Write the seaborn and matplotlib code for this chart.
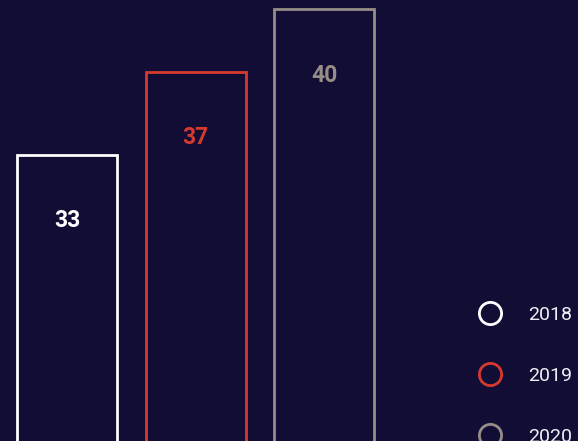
import matplotlib
matplotlib.use('Agg')
import matplotlib.pyplot as plt
import seaborn as sns
import pandas as pd
from matplotlib.lines import Line2D

# data
years = ['2018', '2019', '2020']
values = [33, 37, 40]
colors = ['#ffffff', '#d63a2e', '#968d87']

bg = '#120d35'

df = pd.DataFrame({'year': years, 'value': values})

sns.set_theme(style='white')
plt.rcParams['font.family'] = ['Roboto', 'DejaVu Sans']

fig = plt.figure(figsize=(5.78, 4.41), dpi=100, facecolor=bg)
ax = fig.add_axes([0, 0, 1, 1])
ax.set_facecolor(bg)

sns.barplot(data=df, x='year', y='value', hue='year', palette=colors,
            fill=False, linewidth=2, width=0.777, dodge=False, legend=False, ax=ax)

ax.set_xlim(-0.52, 3.97)
ax.set_ylim(19.2, 40.45)
ax.axis('off')

# value labels inside top of bars
for i, (v, c) in enumerate(zip(values, colors)):
    ax.annotate(str(v), (i, v), xytext=(0, -66), textcoords='offset pixels',
                ha='center', va='center', color=c, fontsize=16.5, fontweight='bold')

handles = [Line2D([0], [0], marker='o', linestyle='none', markersize=16,
                  markerfacecolor=bg, markeredgecolor=c, markeredgewidth=2)
           for c in colors]
leg = fig.legend(handles, years, loc='upper left', bbox_to_anchor=(478 / 578, 1 - 306 / 441),
                 frameon=False, fontsize=14, labelcolor='#f0eff5', handlelength=1.2,
                 handletextpad=1.36, labelspacing=2.2, borderpad=0, borderaxespad=0)
for t in leg.get_texts():
    t.set_fontweight('normal')

fig.savefig('out.png', dpi=100, facecolor=bg)
